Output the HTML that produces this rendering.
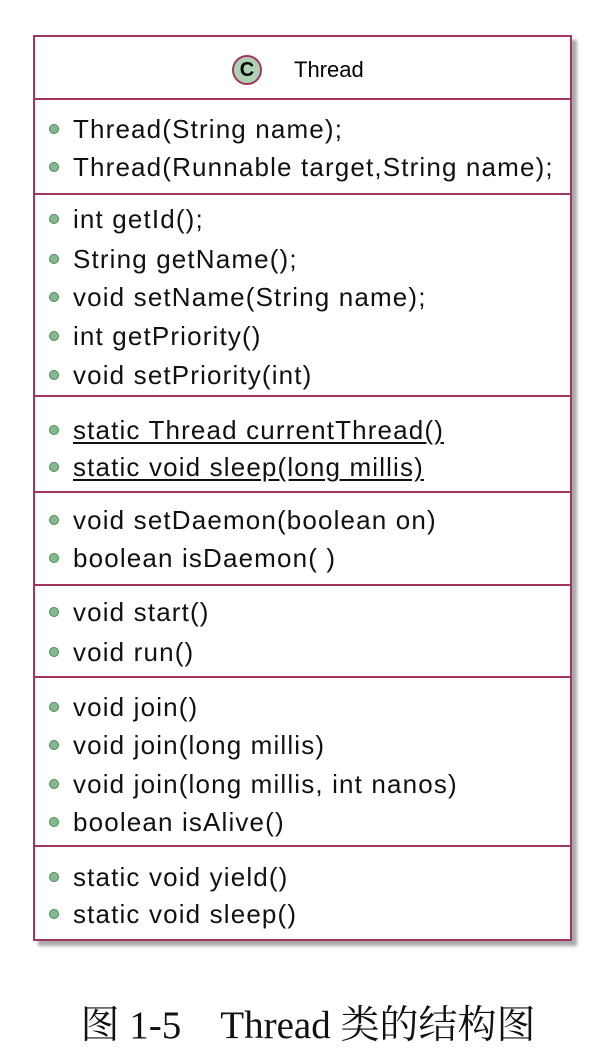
<!DOCTYPE html>
<html><head><meta charset="utf-8"><style>
body{margin:0;width:616px;height:1062px;background:#fff;position:relative;overflow:hidden;font-family:"Liberation Sans",sans-serif;}
.box{position:absolute;left:33px;top:35px;width:535px;height:902px;border:2px solid #a3365f;background:#fff;box-shadow:5px 5px 3px #aaa;}
.sep{position:absolute;left:33px;width:539px;height:2px;background:#a3365f;}
.t{position:absolute;left:73px;font-size:26px;color:#111;line-height:30px;white-space:nowrap;transform:translateY(-15px);letter-spacing:1.15px;}
.d{position:absolute;left:49px;width:10px;height:10px;border-radius:50%;background:#84b98e;border:1px solid #4a8a58;box-sizing:border-box;transform:translateY(-5px);}
.u{text-decoration:underline;text-underline-offset:3px;}
.cap{position:absolute;left:0;width:616px;top:994px;text-align:center;font-family:"Liberation Serif","Noto Serif CJK SC",serif;font-size:39px;color:#111;}
</style></head><body>
<div class="box"></div>
<div style="position:absolute;left:232px;top:55px;width:30px;height:30px;border-radius:50%;background:#add1b2;border:2px solid #a3365f;box-sizing:border-box;text-align:center;font-weight:bold;font-size:20px;line-height:26px;">C</div>
<div style="position:absolute;left:294px;top:56px;font-size:22px;line-height:28px;">Thread</div>
<div class="sep" style="top:98px"></div>
<div class="sep" style="top:193px"></div>
<div class="sep" style="top:395px"></div>
<div class="sep" style="top:491px"></div>
<div class="sep" style="top:584px"></div>
<div class="sep" style="top:676px"></div>
<div class="sep" style="top:845px"></div>

<div class="d" style="top:129px"></div><div class="t" style="top:129px">Thread(String name);</div>
<div class="d" style="top:167px"></div><div class="t" style="top:167px">Thread(Runnable target,String name);</div>
<div class="d" style="top:219px"></div><div class="t" style="top:219px">int getId();</div>
<div class="d" style="top:259px"></div><div class="t" style="top:259px">String getName();</div>
<div class="d" style="top:297px"></div><div class="t" style="top:297px">void setName(String name);</div>
<div class="d" style="top:336px"></div><div class="t" style="top:336px">int getPriority()</div>
<div class="d" style="top:375px"></div><div class="t" style="top:375px">void setPriority(int)</div>
<div class="d" style="top:430px"></div><div class="t u" style="top:430px">static Thread currentThread()</div>
<div class="d" style="top:467px"></div><div class="t u" style="top:467px">static void sleep(long millis)</div>
<div class="d" style="top:520px"></div><div class="t" style="top:520px">void setDaemon(boolean on)</div>
<div class="d" style="top:558px"></div><div class="t" style="top:558px">boolean isDaemon( )</div>
<div class="d" style="top:612px"></div><div class="t" style="top:612px">void start()</div>
<div class="d" style="top:652px"></div><div class="t" style="top:652px">void run()</div>
<div class="d" style="top:707px"></div><div class="t" style="top:707px">void join()</div>
<div class="d" style="top:745px"></div><div class="t" style="top:745px">void join(long millis)</div>
<div class="d" style="top:784px"></div><div class="t" style="top:784px">void join(long millis, int nanos)</div>
<div class="d" style="top:822px"></div><div class="t" style="top:822px">boolean isAlive()</div>
<div class="d" style="top:877px"></div><div class="t" style="top:877px">static void yield()</div>
<div class="d" style="top:914px"></div><div class="t" style="top:914px">static void sleep()</div>

<div class="cap">图 1-5&nbsp;&nbsp;&nbsp; Thread 类的结构图</div>
</body></html>
